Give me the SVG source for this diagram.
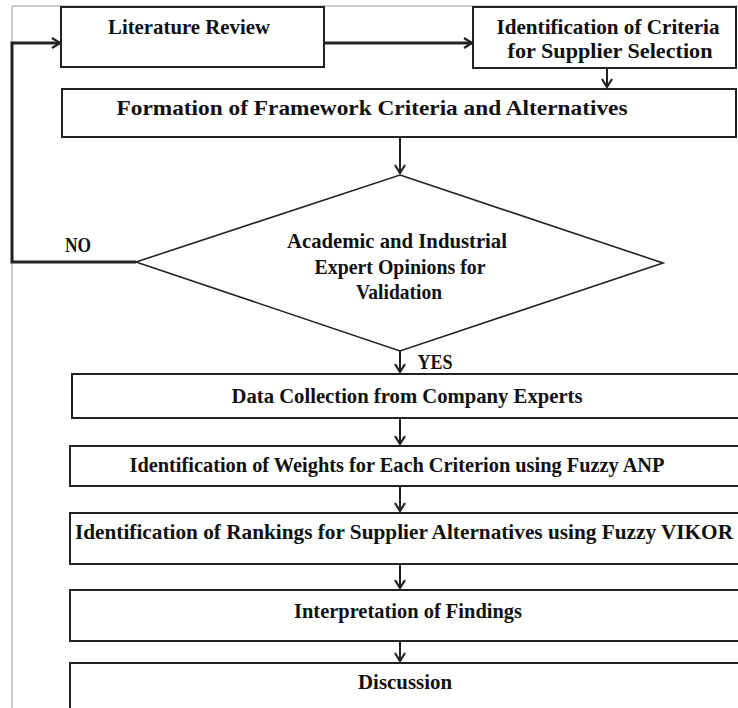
<svg xmlns="http://www.w3.org/2000/svg" width="738" height="708" viewBox="0 0 738 708">
<defs>
<style>
.box{fill:#fff;stroke:#222;stroke-width:2}
.dia{fill:#fff;stroke:#222;stroke-width:1.6}
.t{font-family:"Liberation Serif","Times New Roman",serif;font-weight:bold;font-size:21px;fill:#111;text-anchor:middle}
.c{fill:none;stroke:#222;stroke-width:2}
.ct{fill:none;stroke:#222;stroke-width:3}
.frame{fill:none;stroke:#999;stroke-width:1}
</style>
<marker id="ah" viewBox="0 0 12 12" refX="11" refY="6" markerWidth="12" markerHeight="12" markerUnits="userSpaceOnUse" orient="auto">
<path d="M3,1 L11,6 L3,11" fill="none" stroke="#222" stroke-width="2.2"/>
</marker>
</defs>
<rect width="738" height="708" fill="#fff"/>
<path class="frame" d="M12,708 V6 H738"/>

<g id="literature-review">
<rect class="box" x="61" y="7" width="263" height="60"/>
<text class="t" x="189" y="34" textLength="162" lengthAdjust="spacingAndGlyphs">Literature Review</text>
</g>
<g id="identification-criteria">
<rect class="box" x="473" y="7" width="263" height="61"/>
<text class="t" x="608" y="34" textLength="223" lengthAdjust="spacingAndGlyphs">Identification of Criteria</text>
<text class="t" x="610" y="58" textLength="205" lengthAdjust="spacingAndGlyphs">for Supplier Selection</text>
</g>
<g id="formation">
<rect class="box" x="62" y="89" width="674" height="48"/>
<text class="t" x="372" y="115" textLength="511" lengthAdjust="spacingAndGlyphs">Formation of Framework Criteria  and Alternatives</text>
</g>
<g id="validation">
<polygon class="dia" points="400,175 663,263 400,351 136,262"/>
<text class="t" x="397" y="248" textLength="220" lengthAdjust="spacingAndGlyphs">Academic and Industrial</text>
<text class="t" x="400" y="274" textLength="171" lengthAdjust="spacingAndGlyphs">Expert Opinions for</text>
<text class="t" x="399" y="299" textLength="86" lengthAdjust="spacingAndGlyphs">Validation</text>
</g>
<g id="data-collection">
<rect class="box" x="72" y="374" width="670" height="44"/>
<text class="t" x="407" y="403" textLength="351" lengthAdjust="spacingAndGlyphs">Data Collection from Company Experts</text>
</g>
<g id="weights">
<rect class="box" x="70" y="446" width="672" height="40"/>
<text class="t" x="397" y="472" textLength="535" lengthAdjust="spacingAndGlyphs">Identification of Weights for Each Criterion using Fuzzy ANP</text>
</g>
<g id="rankings">
<rect class="box" x="70" y="513" width="672" height="51"/>
<text class="t" x="404" y="539" textLength="658" lengthAdjust="spacingAndGlyphs">Identification of Rankings for Supplier Alternatives using Fuzzy VIKOR</text>
</g>
<g id="interpretation">
<rect class="box" x="70" y="590" width="672" height="51"/>
<text class="t" x="408" y="618" textLength="228" lengthAdjust="spacingAndGlyphs">Interpretation of Findings</text>
</g>
<g id="discussion">
<rect class="box" x="70" y="663" width="672" height="50"/>
<text class="t" x="405" y="689" textLength="94" lengthAdjust="spacingAndGlyphs">Discussion</text>
</g>

<g id="connectors">
<path class="ct" d="M324,43 H472" marker-end="url(#ah)"/>
<path class="c" d="M607,68 V87" marker-end="url(#ah)"/>
<path class="c" d="M400,137 V173" marker-end="url(#ah)"/>
<path class="ct" d="M136,262 H12 V43 H60" marker-end="url(#ah)"/>
<text class="t" x="78" y="252" textLength="26" lengthAdjust="spacingAndGlyphs">NO</text>
<path class="c" d="M400,351 V372" marker-end="url(#ah)"/>
<text class="t" x="435" y="369" textLength="35" lengthAdjust="spacingAndGlyphs">YES</text>
<path class="c" d="M400,418 V444" marker-end="url(#ah)"/>
<path class="c" d="M400,486 V511" marker-end="url(#ah)"/>
<path class="c" d="M400,564 V588" marker-end="url(#ah)"/>
<path class="c" d="M400,641 V661" marker-end="url(#ah)"/>
</g>
</svg>
